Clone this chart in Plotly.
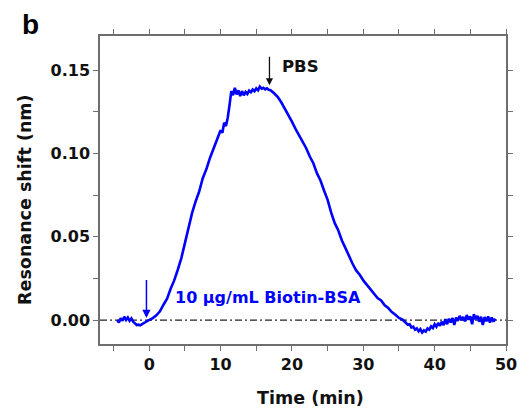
import plotly.graph_objects as go

# ---- data ----
time_min = [
    -4.5, -4.25, -4.0, -3.75, -3.5, -3.25, -3.0, -2.75, -2.5, -2.25, -2.0, -1.75,
    -1.5, -1.25, -1.0, -0.75, -0.5, -0.25, 0.0,
    0.5, 1.0, 1.5, 2.0, 2.5, 3.0, 3.5, 4.0, 4.5, 5.0, 5.5, 6.0, 6.5, 7.0, 7.5,
    8.0, 8.5, 9.0, 9.5,
    9.75, 10.0, 10.25, 10.5, 10.75, 11.0, 11.25, 11.5, 11.75, 12.0, 12.25, 12.5,
    12.75, 13.0, 13.25, 13.5, 13.75, 14.0, 14.25, 14.5, 14.75, 15.0, 15.25, 15.5,
    15.75, 16.0, 16.25, 16.5, 16.75, 17.0,
    17.5, 18.0, 18.5, 19.0, 19.5, 20.0, 20.5, 21.0, 21.5, 22.0, 22.5, 23.0, 23.5,
    24.0, 24.5, 25.0, 25.5, 26.0, 26.5, 27.0, 27.5, 28.0, 28.5, 29.0, 29.5, 30.0,
    30.5, 31.0, 31.5, 32.0, 32.5, 33.0, 33.5, 34.0, 34.5, 35.0, 35.5,
    35.75, 36.0, 36.25, 36.5, 36.75, 37.0, 37.25, 37.5, 37.75, 38.0, 38.25, 38.5,
    38.75, 39.0, 39.25, 39.5, 39.75, 40.0, 40.25, 40.5, 40.75, 41.0, 41.25, 41.5,
    41.75, 42.0, 42.25, 42.5, 42.75, 43.0, 43.25, 43.5, 43.75, 44.0, 44.25, 44.5,
    44.75, 45.0, 45.25, 45.5, 45.75, 46.0, 46.25, 46.5, 46.75, 47.0, 47.25, 47.5,
    47.75, 48.0, 48.25, 48.5,
]
resonance_shift_nm = [
    0.0000, -0.0015, 0.0010, -0.0005, 0.0020, 0.0000, 0.0015, -0.0005, 0.0010, -0.0010,
    -0.0020, -0.0030, -0.0028, -0.0032, -0.0025, -0.0020, -0.0012, -0.0005, 0.0000,
    0.0012, 0.0028, 0.0052, 0.0092, 0.0128, 0.0188, 0.0238, 0.0302, 0.0372, 0.0462,
    0.0552, 0.0642, 0.0712, 0.0772, 0.0852, 0.0905, 0.0972, 0.1025, 0.1078,
    0.1105, 0.1140, 0.1125, 0.1185, 0.1165, 0.1215, 0.1290, 0.1375, 0.1350, 0.1395,
    0.1355, 0.1380, 0.1345, 0.1375, 0.1350, 0.1370, 0.1358, 0.1378, 0.1368, 0.1385,
    0.1375, 0.1392, 0.1380, 0.1402, 0.1390, 0.1395, 0.1385, 0.1392, 0.1383, 0.1380,
    0.1362, 0.1340, 0.1308, 0.1272, 0.1232, 0.1192, 0.1148, 0.1112, 0.1068, 0.1032,
    0.0982, 0.0942, 0.0882, 0.0838, 0.0778, 0.0722, 0.0645, 0.0582, 0.0538, 0.0478,
    0.0432, 0.0382, 0.0338, 0.0298, 0.0272, 0.0238, 0.0212, 0.0182, 0.0162, 0.0132,
    0.0118, 0.0088, 0.0072, 0.0048, 0.0032, 0.0012, 0.0002,
    -0.0008, -0.0012, -0.0028, -0.0025, -0.0045, -0.0040, -0.0058, -0.0050, -0.0068,
    -0.0055, -0.0075, -0.0062, -0.0070, -0.0050, -0.0058, -0.0038, -0.0048, -0.0025,
    -0.0040, -0.0018, -0.0035, -0.0010, -0.0030, 0.0005, -0.0025, 0.0008, -0.0015,
    0.0012, -0.0030, 0.0015, -0.0005, 0.0025, 0.0000, 0.0018, -0.0008, 0.0030,
    0.0002, 0.0022, -0.0025, 0.0035, 0.0005, 0.0025, -0.0010, 0.0020, -0.0030,
    0.0018, -0.0008, 0.0022, -0.0015, 0.0015, -0.0010, 0.0008,
]

x_tick_values = [0, 10, 20, 30, 40, 50]
y_tick_values = [0.00, 0.05, 0.10, 0.15]

# arrows: (time, start shift, end shift)
pbs_arrow = (16.85, 0.159, 0.141)
biotin_arrow = (-0.39, 0.025, 0.0012)

FONT = "DejaVu Sans"
BLUE = "#0000ff"
AXIS = "#6e6e6e"

fig = go.Figure()
fig.add_trace(go.Scatter(
    x=time_min, y=resonance_shift_nm, mode="lines",
    line=dict(color=BLUE, width=2.6), showlegend=False, hoverinfo="skip",
))

axis_common = dict(
    showline=True, linecolor=AXIS, linewidth=1.5, mirror="ticks",
    ticks="outside", ticklen=5, tickwidth=1.3, tickcolor=AXIS,
    showgrid=False, zeroline=False,
    tickfont=dict(family=FONT, size=16, color="#111111", weight="bold"),
)

fig.update_xaxes(
    range=[-6.9, 50], tickvals=x_tick_values,
    minor=dict(dtick=5, ticks="outside", ticklen=5, tickwidth=1.3, tickcolor=AXIS, showgrid=False),
    **axis_common,
)
fig.update_yaxes(
    range=[-0.0144, 0.1706], tickvals=y_tick_values, tickformat=".2f",
    minor=dict(dtick=0.025, ticks="outside", ticklen=5, tickwidth=1.3, tickcolor=AXIS, showgrid=False),
    **axis_common,
)

# dash-dot zero line
fig.add_shape(type="line", xref="paper", x0=0, x1=1, yref="y", y0=0, y1=0,
              line=dict(color="#222222", width=1.3, dash="7px,3px,2px,3px"), layer="below")

# arrows
fig.add_annotation(x=pbs_arrow[0], y=pbs_arrow[2], ax=pbs_arrow[0], ay=pbs_arrow[1],
                   xref="x", yref="y", axref="x", ayref="y", text="", showarrow=True,
                   arrowhead=2, arrowsize=1.1, arrowwidth=1.3, arrowcolor="#111111")
fig.add_annotation(x=biotin_arrow[0], y=biotin_arrow[2], ax=biotin_arrow[0], ay=biotin_arrow[1],
                   xref="x", yref="y", axref="x", ayref="y", text="", showarrow=True,
                   arrowhead=2, arrowsize=1.1, arrowwidth=1.5, arrowcolor=BLUE)

# text labels
fig.add_annotation(x=21.2, y=0.1525, xref="x", yref="y", text="<b>PBS</b>", showarrow=False,
                   font=dict(family=FONT, size=16.5, color="#111111"))
fig.add_annotation(x=16.65, y=0.0135, xref="x", yref="y", text="<b>10 μg/mL Biotin-BSA</b>",
                   showarrow=False, font=dict(family=FONT, size=16, color=BLUE))

# axis titles and panel letter
fig.add_annotation(x=0.518, y=-0.175, xref="paper", yref="paper", text="<b>Time (min)</b>",
                   showarrow=False, xanchor="center", yanchor="middle",
                   font=dict(family=FONT, size=17.5, color="#111111"))
fig.add_annotation(x=-0.185, y=0.4675, xref="paper", yref="paper", text="<b>Resonance shift (nm)</b>",
                   showarrow=False, textangle=-90, xanchor="center", yanchor="middle",
                   font=dict(family=FONT, size=17.5, color="#111111"))
fig.add_annotation(x=-0.172, y=1.0909, xref="paper", yref="paper", text="<b>b</b>",
                   showarrow=False, xanchor="center", yanchor="top", borderpad=0,
                   font=dict(family="Liberation Sans", size=28, color="#000000"))

# page body has an 8px default margin, so the figure is sized to fit the window
fig.update_layout(
    width=521, height=410,
    margin=dict(l=92, r=16, t=28, b=74),
    paper_bgcolor="white", plot_bgcolor="white",
)

fig.write_html("out.html")
